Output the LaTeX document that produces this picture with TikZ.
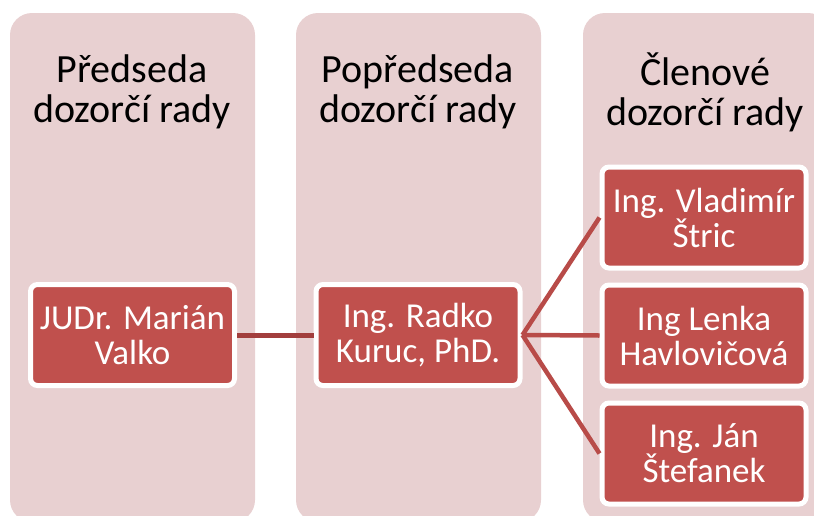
\documentclass[tikz,border=0pt]{standalone}
\usepackage{fontspec}
\setmainfont{Carlito}
\definecolor{col_pink}{RGB}{232,208,209}
\definecolor{node_red}{RGB}{192,80,77}
\definecolor{edge_dark}{RGB}{162,62,61}
\definecolor{edge_red}{RGB}{184,75,72}

\begin{document}
\begin{tikzpicture}[x=1pt,y=-1pt,line width=4.5pt]
    \tikzstyle{col}=[fill=col_pink, rounded corners=22pt]
    \tikzstyle{head}=[align=center, inner sep=0pt, text=black, font=\fontsize{40}{40}\selectfont]
    \tikzstyle{person}=[draw=white, line width=5pt, fill=node_red, rounded corners=7pt, minimum width=204pt, minimum height=101pt, inner sep=0pt, align=center, text=white, font=\fontsize{35}{35}\selectfont]

    \useasboundingbox (0,0) rectangle (814,515);

    % columns
    \fill[col] (10,13)  rectangle (255,522);
    \fill[col] (296,13) rectangle (541,522);
    \fill[col] (583,13) rectangle (830,522);

    \node[head] (h1) at (132,92)  {Předseda\\dozorčí rady};
    \node[head] (h2) at (418,92)  {Popředseda\\dozorčí rady};
    \node[head] (h3) at (705,92)  {Členové\\dozorčí rady};

    % people
    \node[person] (a)  at (132.5,335) {JUDr. Marián\\Valko};
    \node[person] (b)  at (418,335)   {Ing. Radko\\Kuruc, PhD.};
    \node[person] (c1) at (704,217.5) {Ing. Vladimír\\Štric};
    \node[person] (c2) at (704,335.5) {Ing Lenka\\Havlovičová};
    \node[person] (c3) at (704,453.5) {Ing. Ján\\Štefanek};

    \path
     (a.east) edge[edge_dark, line width=5pt] (b.west)
     (b.east) edge[edge_red] (c1.west)
     (b.east) edge[edge_red] (c2.west)
     (b.east) edge[edge_red] (c3.west)
     ;
\end{tikzpicture}
\end{document}
